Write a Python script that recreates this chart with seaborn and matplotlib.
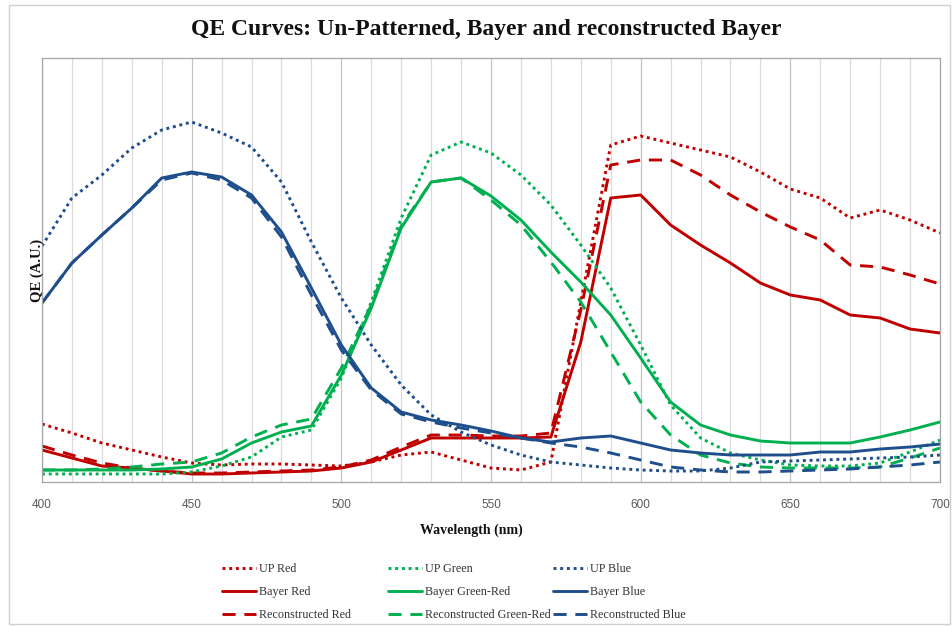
import pandas as pd
import numpy as np
import matplotlib.pyplot as plt
import seaborn as sns
from matplotlib.patches import Rectangle

# Wavelength samples (nm)
wavelength = list(range(400, 701, 10))

# QE values (arbitrary units)
up_red = [58, 49, 39, 32, 25, 19, 17, 18, 18, 17, 16, 20, 27, 30, 22, 14, 12, 20, 180, 337,
          346, 339, 332, 325, 310, 293, 284, 264, 272, 262, 249]
bayer_red = [32, 24, 16, 14, 11, 8, 8, 9, 10, 11, 14, 20, 32, 44, 44, 44, 44, 45, 140, 284,
             287, 257, 237, 219, 199, 187, 182, 167, 164, 153, 149]
recon_red = [36, 27, 19, 14, 11, 9, 9, 10, 11, 12, 15, 22, 35, 47, 47, 46, 46, 49, 172, 317,
             322, 322, 307, 287, 270, 255, 242, 217, 215, 207, 198]

up_green = [8, 8, 8, 8, 8, 10, 16, 25, 45, 52, 104, 180, 264, 327, 340, 329, 307, 277, 237, 194,
            137, 77, 44, 29, 22, 17, 16, 16, 19, 30, 42]
bayer_green = [12, 12, 12, 12, 13, 15, 23, 39, 50, 56, 107, 174, 254, 300, 304, 286, 262, 230, 200, 167,
               124, 80, 57, 47, 41, 39, 39, 39, 45, 52, 60]
recon_green = [12, 12, 13, 15, 18, 20, 29, 45, 57, 63, 114, 177, 256, 300, 304, 282, 257, 220, 180, 130,
               80, 47, 27, 19, 15, 14, 14, 14, 15, 24, 34]

up_blue = [236, 284, 307, 334, 352, 360, 349, 335, 300, 240, 184, 137, 97, 67, 50, 37, 27, 20, 17, 14,
           12, 11, 11, 14, 20, 21, 22, 23, 24, 25, 27]
bayer_blue = [179, 219, 247, 274, 304, 310, 305, 287, 250, 194, 137, 94, 70, 62, 57, 51, 44, 40, 44, 46,
              39, 32, 29, 27, 27, 27, 30, 30, 33, 35, 38]
recon_blue = [179, 219, 247, 274, 302, 309, 302, 284, 245, 187, 132, 92, 68, 60, 54, 49, 44, 39, 35, 29,
              22, 15, 12, 10, 10, 11, 12, 13, 15, 17, 20]

RED = '#C00000'
GREEN = '#00B050'
BLUE = '#1F4E8C'

DOT = (0, (1, 1.3))
DASH = (0, (4.5, 3))

# legend is built column by column: reds, greens, blues
series = [
    ('UP Red', up_red, RED, DOT),
    ('Bayer Red', bayer_red, RED, '-'),
    ('Reconstructed Red', recon_red, RED, DASH),
    ('UP Green', up_green, GREEN, DOT),
    ('Bayer Green-Red', bayer_green, GREEN, '-'),
    ('Reconstructed Green-Red', recon_green, GREEN, DASH),
    ('UP Blue', up_blue, BLUE, DOT),
    ('Bayer Blue', bayer_blue, BLUE, '-'),
    ('Reconstructed Blue', recon_blue, BLUE, DASH),
]

sns.set_theme(style='white')
serif = ['Liberation Serif', 'DejaVu Serif']

fig = plt.figure(figsize=(9.52, 6.26), dpi=100)
ax = fig.add_axes([42 / 952, 1 - 482 / 626, 898 / 952, 424 / 626])

for name, vals, col, ls in series:
    sns.lineplot(x=wavelength, y=vals, ax=ax, color=col, linestyle=ls, linewidth=2.1,
                 label=name, legend=False)

ax.set_xlim(400, 700)
ax.set_ylim(0, 424)
ax.set_xticks(range(400, 701, 50))
ax.set_xticks(range(400, 701, 10), minor=True)
ax.set_yticks([])
ax.grid(False)
ax.grid(True, which='major', axis='x', color='#C4C4C4', lw=0.9)
ax.grid(True, which='minor', axis='x', color='#DADADA', lw=0.9)
ax.set_axisbelow(True)
ax.tick_params(axis='x', which='both', length=0, pad=12, labelsize=8.5, labelcolor='#595959')
for lab in ax.get_xticklabels():
    lab.set_family('Liberation Sans')
for sp in ax.spines.values():
    sp.set_color('#A6A6A6')
    sp.set_linewidth(0.9)
ax.set_xlabel('')
ax.set_ylabel('')

# Titles and axis labels
fig.text(0.511, 1 - 29 / 626, 'QE Curves: Un-Patterned, Bayer and reconstructed Bayer',
         ha='center', va='center', fontsize=17, fontweight='bold', family=serif, color='#111111')
fig.text(471 / 952, 1 - 530 / 626, 'Wavelength (nm)', ha='center', va='center',
         fontsize=10, fontweight='bold', family=serif, color='#111111')
fig.text(37 / 952, 1 - 270 / 626, 'QE (A.U.)', ha='center', va='center', rotation=90,
         fontsize=10.5, fontweight='bold', family=serif, color='#111111')

# Legend in three fixed columns like the original
handles, labels = ax.get_legend_handles_labels()
col_x = [222, 388, 553]
for i, x0 in enumerate(col_x):
    leg = fig.legend(handles[i * 3:i * 3 + 3], labels[i * 3:i * 3 + 3],
                     loc='upper left', bbox_to_anchor=(x0 / 952, 1 - 563 / 626),
                     frameon=False, borderpad=0, borderaxespad=0, handlelength=2.8,
                     handletextpad=0.3, labelspacing=0.92,
                     prop={'family': serif, 'size': 8.7})
    for t in leg.get_texts():
        t.set_color('#333333')

# chart area border
fig.patches.append(Rectangle((9 / 952, 2 / 626), 941 / 952, 619 / 626, transform=fig.transFigure,
                             fill=False, edgecolor='#D0D0D0', lw=1))

plt.savefig('out.png', dpi=100)
